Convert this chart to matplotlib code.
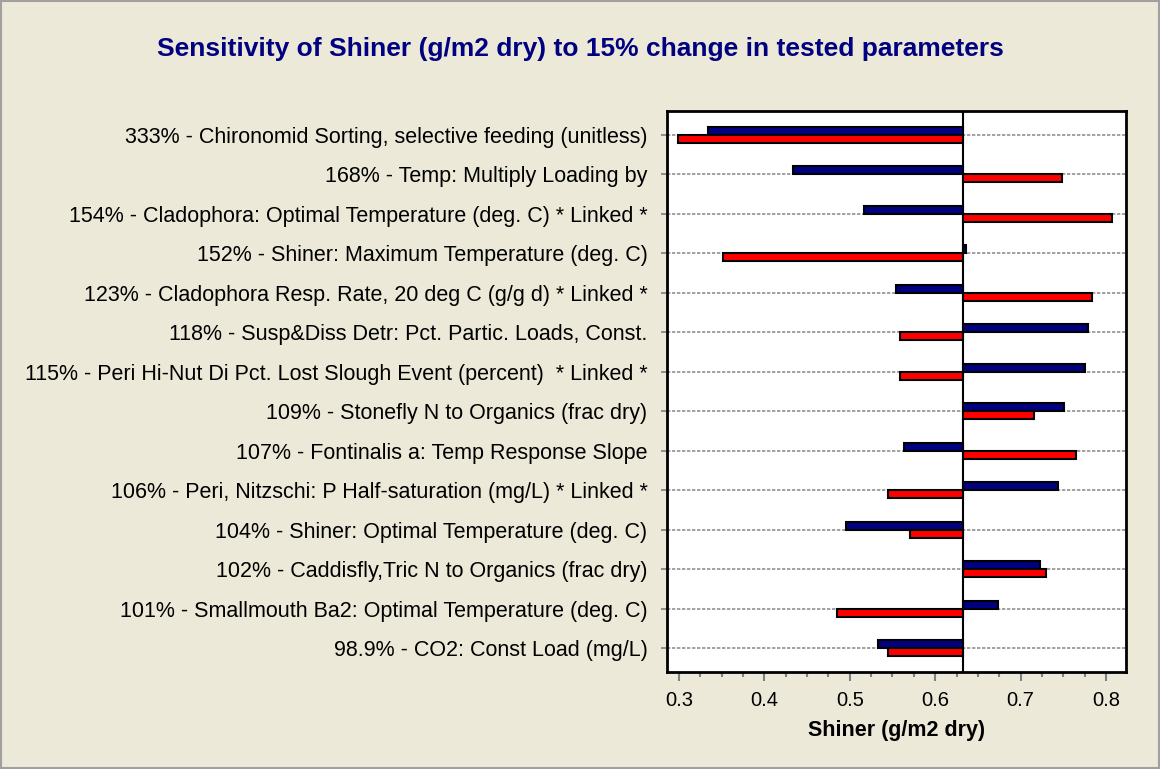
import matplotlib.pyplot as plt
import matplotlib.patches as mpatches
from matplotlib.ticker import MultipleLocator
import numpy as np

plt.rcParams['font.family'] = ['Liberation Sans', 'DejaVu Sans']

# parameter names, most sensitive first
labels = [
    "333% - Chironomid Sorting, selective feeding (unitless)",
    "168% - Temp: Multiply Loading by",
    "154% - Cladophora: Optimal Temperature (deg. C) * Linked *",
    "152% - Shiner: Maximum Temperature (deg. C)",
    "123% - Cladophora Resp. Rate, 20 deg C (g/g d) * Linked *",
    "118% - Susp&Diss Detr: Pct. Partic. Loads, Const.",
    "115% - Peri Hi-Nut Di Pct. Lost Slough Event (percent)  * Linked *",
    "109% - Stonefly N to Organics (frac dry)",
    "107% - Fontinalis a: Temp Response Slope",
    "106% - Peri, Nitzschi: P Half-saturation (mg/L) * Linked *",
    "104% - Shiner: Optimal Temperature (deg. C)",
    "102% - Caddisfly,Tric N to Organics (frac dry)",
    "101% - Smallmouth Ba2: Optimal Temperature (deg. C)",
    "98.9% - CO2: Const Load (mg/L)",
]

baseline = 0.632
# result with parameter decreased by 15% (blue) and increased by 15% (red)
minus_15 = [0.334, 0.433, 0.517, 0.636, 0.554, 0.779, 0.775,
            0.751, 0.563, 0.744, 0.495, 0.723, 0.674, 0.533]
plus_15 = [0.299, 0.749, 0.807, 0.351, 0.784, 0.559, 0.559,
           0.716, 0.765, 0.545, 0.570, 0.730, 0.485, 0.545]

bg = "#ECE9D8"
fig = plt.figure(figsize=(11.6, 7.69), dpi=100, facecolor=bg)
ax = fig.add_axes([0.575, 0.1261, 0.3957, 0.7296])
ax.set_facecolor("white")

y = np.arange(len(labels))
h = 0.2
ax.barh(y - h / 2, np.array(minus_15) - baseline, left=baseline, height=h,
        color="#000080", edgecolor="black", linewidth=1.5, zorder=3)
ax.barh(y + h / 2, np.array(plus_15) - baseline, left=baseline, height=h,
        color="#FF0000", edgecolor="black", linewidth=1.5, zorder=3)

ax.axvline(baseline, color="black", linewidth=1.5, zorder=4)
for yy in y:
    ax.axhline(yy, color="#909090", linestyle=(0, (2, 1)), linewidth=1.2, zorder=1)

ax.set_ylim(len(labels) - 0.4, -0.6)
ax.set_xlim(0.286, 0.8234)
ax.set_yticks(y)
ax.set_yticklabels(labels, fontsize=15.5)
ax.tick_params(axis="y", length=4, width=1.2, color="#808080", pad=10)

ax.xaxis.set_major_locator(MultipleLocator(0.1))
ax.xaxis.set_minor_locator(MultipleLocator(0.025))
ax.set_xticks([0.3, 0.4, 0.5, 0.6, 0.7, 0.8])
ax.set_xticklabels(["0.3", "0.4", "0.5", "0.6", "0.7", "0.8"], fontsize=14.5)
ax.tick_params(axis="x", which="major", length=6.5, width=1.5, color="#808080", pad=7)
ax.tick_params(axis="x", which="minor", length=3.6, width=1.5, color="#808080")
ax.set_xlabel("Shiner (g/m2 dry)", fontsize=15.5, fontweight="bold", labelpad=7)

for s in ax.spines.values():
    s.set_linewidth(2)
    s.set_color("black")

fig.text(0.5, 0.936, "Sensitivity of Shiner (g/m2 dry) to 15% change in tested parameters",
         ha="center", va="center", fontsize=19, fontweight="bold", color="#000080")

fig.patches.append(mpatches.Rectangle((0.001, 0.001), 0.998, 0.998, transform=fig.transFigure,
                                      fill=False, edgecolor="#A0A0A0", linewidth=1.5))

fig.savefig("out.png", dpi=100, facecolor=bg)
